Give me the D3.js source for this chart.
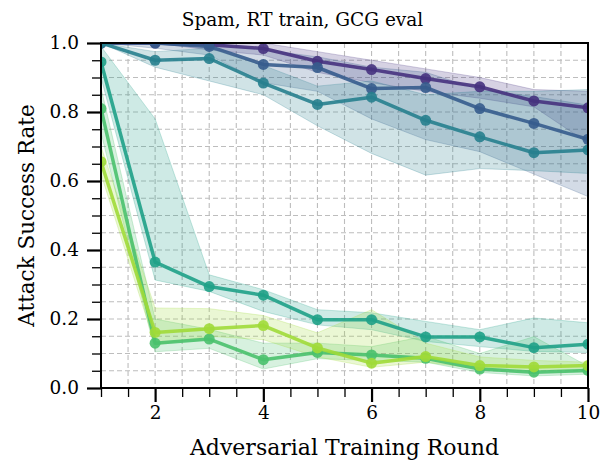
<!DOCTYPE html>
<html>
<head>
<meta charset="utf-8">
<script src="https://cdn.jsdelivr.net/npm/d3@7"></script>
<style>
  html, body { margin: 0; padding: 0; background: #fff; }
  svg { display: block; }
  text { font-family: "DejaVu Serif", serif; fill: #000; }
</style>
</head>
<body>
<div id="chart"></div>
<script>
// Spam, RT train, GCG eval -- attack success rate per adversarial training round

const rounds = [1, 2, 3, 4, 5, 6, 7, 8, 9, 10];

const seriesNames = ["s1", "s2", "s3", "s4", "s5", "s6"];
const seriesColors = ["#46327e", "#365c8d", "#277f8e", "#1fa187", "#4ac16d", "#a0da39"];

// mean values
const s1Mean = [1.0, 1.0, 0.995, 0.984, 0.947, 0.923, 0.897, 0.873, 0.832, 0.812];
const s2Mean = [1.0, 1.0, 0.99, 0.938, 0.929, 0.868, 0.871, 0.81, 0.767, 0.721];
const s3Mean = [1.0, 0.95, 0.955, 0.884, 0.822, 0.843, 0.776, 0.728, 0.682, 0.69];
const s4Mean = [0.945, 0.365, 0.294, 0.269, 0.198, 0.198, 0.148, 0.148, 0.117, 0.127];
const s5Mean = [0.81, 0.13, 0.142, 0.082, 0.103, 0.096, 0.086, 0.055, 0.046, 0.051];
const s6Mean = [0.656, 0.161, 0.172, 0.181, 0.116, 0.072, 0.091, 0.065, 0.061, 0.065];

// shaded band bounds
const s1Low  = [1.0, 1.0, 0.98, 0.965, 0.915, 0.885, 0.86, 0.84, 0.815, 0.71];
const s1High = [1.0, 1.0, 1.0, 1.0, 0.975, 0.95, 0.925, 0.9, 0.865, 0.86];
const s2Low  = [1.0, 0.985, 0.965, 0.885, 0.86, 0.78, 0.72, 0.685, 0.62, 0.555];
const s2High = [1.0, 1.0, 1.0, 0.98, 0.96, 0.93, 0.915, 0.865, 0.845, 0.82];
const s3Low  = [1.0, 0.93, 0.89, 0.85, 0.76, 0.68, 0.617, 0.636, 0.63, 0.622];
const s3High = [1.0, 0.975, 0.985, 0.935, 0.875, 0.89, 0.85, 0.86, 0.86, 0.865];
const s4Low  = [0.9, 0.313, 0.28, 0.222, 0.183, 0.169, 0.135, 0.12, 0.106, 0.103];
const s4High = [0.99, 0.78, 0.328, 0.285, 0.227, 0.218, 0.193, 0.169, 0.203, 0.189];
const s5Low  = [0.74, 0.105, 0.115, 0.055, 0.085, 0.08, 0.075, 0.045, 0.035, 0.04];
const s5High = [0.87, 0.2, 0.17, 0.13, 0.13, 0.12, 0.15, 0.1, 0.149, 0.063];
const s6Low  = [0.62, 0.125, 0.15, 0.14, 0.09, 0.06, 0.075, 0.055, 0.05, 0.055];
const s6High = [0.7, 0.232, 0.23, 0.21, 0.16, 0.227, 0.13, 0.09, 0.08, 0.075];

const means = [s1Mean, s2Mean, s3Mean, s4Mean, s5Mean, s6Mean];
const lows = [s1Low, s2Low, s3Low, s4Low, s5Low, s6Low];
const highs = [s1High, s2High, s3High, s4High, s5High, s6High];

const xTickValues = [2, 4, 6, 8, 10];
const yTickValues = [0.0, 0.2, 0.4, 0.6, 0.8, 1.0];

const titleText = "Spam, RT train, GCG eval";
const xLabelText = "Adversarial Training Round";
const yLabelText = "Attack Success Rate";

const width = 605, height = 466;
const margin = { top: 43, right: 17, bottom: 78, left: 101 };
const innerW = width - margin.left - margin.right;
const innerH = height - margin.top - margin.bottom;

const svg = d3.select("#chart").append("svg")
    .attr("width", width)
    .attr("height", height);

const x = d3.scaleLinear().domain([1, 10]).range([0, innerW]);
const y = d3.scaleLinear().domain([0, 1]).range([innerH, 0]);

const g = svg.append("g").attr("transform", `translate(${margin.left},${margin.top})`);

// grid on minor tick positions
const xGrid = d3.range(1.5, 10, 0.5);
const yGrid = d3.range(1, 20).map(i => i * 0.05);
g.append("g").selectAll("line").data(xGrid).join("line")
    .attr("x1", d => x(d)).attr("x2", d => x(d))
    .attr("y1", 0).attr("y2", innerH)
    .attr("stroke", "#bdbdbd").attr("stroke-width", 1.1)
    .attr("stroke-dasharray", "5,3");
g.append("g").selectAll("line").data(yGrid).join("line")
    .attr("y1", d => y(d)).attr("y2", d => y(d))
    .attr("x1", 0).attr("x2", innerW)
    .attr("stroke", "#bdbdbd").attr("stroke-width", 1.1)
    .attr("stroke-dasharray", "5,3");

// bands
const area = d3.area()
    .x((d, i) => x(rounds[i]))
    .y0(d => y(d[0]))
    .y1(d => y(d[1]));

svg.append("clipPath").attr("id", "plotclip")
    .append("rect").attr("width", innerW).attr("height", innerH);

const plot = g.append("g").attr("clip-path", "url(#plotclip)");

seriesNames.forEach((name, k) => {
    const band = lows[k].map((lo, i) => [lo, highs[k][i]]);
    plot.append("path")
        .datum(band)
        .attr("d", area)
        .attr("fill", seriesColors[k])
        .attr("fill-opacity", 0.22)
        .attr("stroke", seriesColors[k])
        .attr("stroke-opacity", 0.25)
        .attr("stroke-width", 1);
});

// lines + markers
const line = d3.line()
    .x((d, i) => x(rounds[i]))
    .y(d => y(d));

seriesNames.forEach((name, k) => {
    plot.append("path")
        .datum(means[k])
        .attr("d", line)
        .attr("fill", "none")
        .attr("stroke", seriesColors[k])
        .attr("stroke-width", 3.5)
        .attr("stroke-opacity", 0.9)
        .attr("stroke-linejoin", "round");
    plot.append("g").selectAll("circle").data(means[k]).join("circle")
        .attr("cx", (d, i) => x(rounds[i]))
        .attr("cy", d => y(d))
        .attr("r", 5.5)
        .attr("fill", seriesColors[k])
        .attr("fill-opacity", 0.9);
});

// axes
const xAxis = g.append("g").attr("transform", `translate(0,${innerH})`)
    .call(d3.axisBottom(x).tickValues(xTickValues).tickFormat(d3.format("d")).tickSize(14).tickPadding(4));
const xMinor = g.append("g").attr("transform", `translate(0,${innerH})`)
    .call(d3.axisBottom(x).tickValues(d3.range(1, 10.01, 0.5).filter(v => !xTickValues.includes(v))).tickSize(9).tickFormat(""));
const yAxis = g.append("g")
    .call(d3.axisLeft(y).tickValues(yTickValues).tickFormat(d3.format(".1f")).tickSize(14).tickPadding(8));
const yMinor = g.append("g")
    .call(d3.axisLeft(y).tickValues(d3.range(0, 21).map(i => i * 0.05).filter(v => Math.abs(v * 5 - Math.round(v * 5)) > 1e-6)).tickSize(9).tickFormat(""));

[xAxis, yAxis].forEach(a => {
    a.select(".domain").remove();
    a.selectAll(".tick line").attr("stroke", "#000").attr("stroke-width", 2.2);
    a.selectAll(".tick text").attr("font-size", 18.5).attr("font-family", "DejaVu Serif");
});
[xMinor, yMinor].forEach(a => {
    a.select(".domain").remove();
    a.selectAll(".tick line").attr("stroke", "#000").attr("stroke-width", 1.3);
});

// frame
g.append("rect")
    .attr("width", innerW).attr("height", innerH)
    .attr("fill", "none").attr("stroke", "#000").attr("stroke-width", 2);

// labels
svg.append("text")
    .attr("x", width / 2).attr("y", 26)
    .attr("text-anchor", "middle").attr("font-size", 18.5)
    .text(titleText);
svg.append("text")
    .attr("x", margin.left + innerW / 2).attr("y", 455)
    .attr("text-anchor", "middle").attr("font-size", 22)
    .text(xLabelText);
svg.append("text")
    .attr("transform", `translate(34,${margin.top + innerH / 2}) rotate(-90)`)
    .attr("text-anchor", "middle").attr("font-size", 21.5)
    .text(yLabelText);
</script>
</body>
</html>
